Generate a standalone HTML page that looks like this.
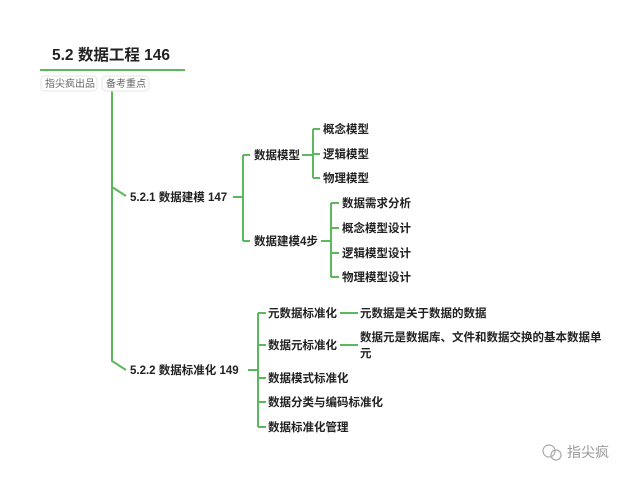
<!DOCTYPE html>
<html><head><meta charset="utf-8"><style>
html,body{margin:0;padding:0;background:#fff;width:640px;height:478px;overflow:hidden}
svg{display:block}
text{font-family:"Liberation Sans","Noto Sans CJK SC",sans-serif;fill:#222;font-weight:bold;font-size:11.5px}
</style></head><body>
<svg width="640" height="478" viewBox="0 0 640 478">
<g fill="none" stroke="#5cb85c" stroke-width="2">
<line x1="40" y1="70" x2="185" y2="70"/>
<path d="M112 90 V361 L126 370"/>
<path d="M112 187 L126 196"/>
<path d="M233 197 H243 M243 155 V241 M243 155 H250 M243 241 H250"/>
<path d="M302 155 H313 M313 129 V178 M313 129 H320 M313 154 H320 M313 178 H320"/>
<path d="M321 241 H331 M331 203 V277 M331 203 H339 M331 228 H339 M331 253 H339 M331 277 H339"/>
<path d="M248 370 H258 M258 313 V427 M258 313 H266 M258 345 H266 M258 378 H266 M258 402 H266 M258 427 H266"/>
<path d="M340 313 H358 M340 345 H358"/>
</g>
<text x="52" y="60" style="font-size:15.5px">5.2  数据工程 146</text>
<rect x="41" y="76" width="56" height="15" rx="4" fill="#fff" stroke="#e6e6e6"/>
<rect x="102" y="76" width="47" height="15" rx="4" fill="#fff" stroke="#e6e6e6"/>
<text x="45" y="87" style="font-size:10px;font-weight:normal;fill:#666">指尖疯出品</text>
<text x="106" y="87" style="font-size:10px;font-weight:normal;fill:#666">备考重点</text>
<text x="130" y="201">5.2.1  数据建模 147</text>
<text x="254" y="159">数据模型</text>
<text x="323" y="133">概念模型</text>
<text x="323" y="158">逻辑模型</text>
<text x="323" y="182">物理模型</text>
<text x="254" y="245">数据建模4步</text>
<text x="342" y="207">数据需求分析</text>
<text x="342" y="232">概念模型设计</text>
<text x="342" y="257">逻辑模型设计</text>
<text x="342" y="281">物理模型设计</text>
<text x="130" y="374">5.2.2  数据标准化 149</text>
<text x="268" y="317">元数据标准化</text>
<text x="360" y="317">元数据是关于数据的数据</text>
<text x="268" y="349">数据元标准化</text>
<text x="360" y="341">数据元是数据库、文件和数据交换的基本数据单</text>
<text x="360" y="357">元</text>
<text x="268" y="382">数据模式标准化</text>
<text x="268" y="406">数据分类与编码标准化</text>
<text x="268" y="431">数据标准化管理</text>
<circle cx="549" cy="451" r="6" fill="none" stroke="#aaa" stroke-width="1.2"/>
<circle cx="556" cy="455" r="5" fill="none" stroke="#aaa" stroke-width="1.2"/>
<text x="567" y="457" style="font-size:14px;font-weight:normal;fill:#999">指尖疯</text>
</svg>
</body></html>
